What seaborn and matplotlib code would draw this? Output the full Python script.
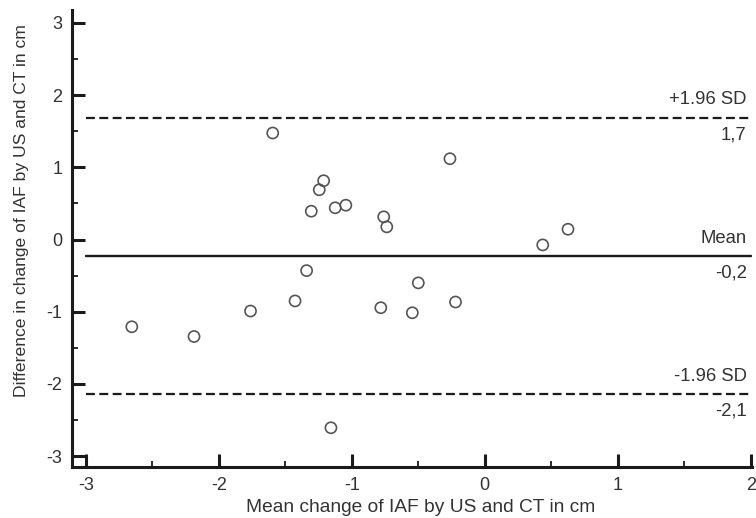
import matplotlib
matplotlib.use("Agg")
import matplotlib.pyplot as plt
import seaborn as sns
import pandas as pd
from matplotlib.ticker import MultipleLocator

# Data
mean_change = [-1.595, -1.212, -1.245, -1.305, -1.125, -1.045, -0.262, -0.760, -0.737,
               0.436, 0.626, -2.655, -2.187, -1.762, -1.427, -1.340, -0.782, -0.500,
               -0.545, -0.220, -1.157]
difference = [1.476, 0.815, 0.690, 0.393, 0.440, 0.476, 1.120, 0.315, 0.176,
              -0.074, 0.143, -1.208, -1.343, -0.990, -0.850, -0.430, -0.944, -0.600,
              -1.014, -0.865, -2.607]

line_names = ["+1.96 SD", "Mean", "-1.96 SD"]
line_values = [1.69, -0.232, -2.14]
line_value_labels = ["1,7", "-0,2", "-2,1"]
line_styles = ["--", "-", "--"]
line_x = [-3.0, 2.0]

x_label = "Mean change of IAF by US and CT in cm"
y_label = "Difference in change of IAF by US and CT in cm"

df = pd.DataFrame({"x": mean_change, "y": difference})

sns.set_style("ticks")
plt.rcParams["font.family"] = ["Liberation Sans", "DejaVu Sans"]
plt.rcParams["axes.unicode_minus"] = False

fig = plt.figure(figsize=(7.56, 5.18), dpi=100)
ax = fig.add_axes([0.0952, 0.0985, 0.8995, 0.8822])

for name, val, vlab, ls in zip(line_names, line_values, line_value_labels, line_styles):
    if ls == "--":
        ax.plot(line_x, [val, val], color="#1a1a1a", lw=1.6, dashes=(4, 2), zorder=1)
    else:
        ax.plot(line_x, [val, val], color="#1a1a1a", lw=1.7, zorder=1)
    ax.text(1.97, val + 0.13, name, ha="right", va="bottom", fontsize=13.3, color="#333333")
    ax.text(1.97, val - 0.12, vlab, ha="right", va="top", fontsize=13.3, color="#333333")

sns.scatterplot(data=df, x="x", y="y", ax=ax, marker="o", s=64,
                facecolor="none", edgecolor="#555555", linewidth=1.2, zorder=3)

ax.set_xlim(-3.105, 2.01)
ax.set_ylim(-3.15, 3.18)
ax.xaxis.set_major_locator(MultipleLocator(1))
ax.xaxis.set_minor_locator(MultipleLocator(0.5))
ax.yaxis.set_major_locator(MultipleLocator(1))
ax.yaxis.set_minor_locator(MultipleLocator(0.5))

ax.tick_params(which="major", direction="in", length=9.5, width=2.2, color="#1a1a1a",
               labelsize=13, labelcolor="#333333", pad=7)
ax.tick_params(which="minor", direction="in", length=4.5, width=1.3, color="#1a1a1a")

for side in ["top", "right"]:
    ax.spines[side].set_visible(False)
for side in ["left", "bottom"]:
    ax.spines[side].set_linewidth(2.2)
    ax.spines[side].set_color("#1a1a1a")

ax.set_xlabel(x_label, fontsize=13.8, color="#333333")
ax.set_ylabel(y_label, fontsize=12.6, color="#333333")
ax.xaxis.set_label_coords(0.513, -0.07)
ax.yaxis.set_label_coords(-0.063, 0.562)

fig.savefig("out.png", dpi=100)
